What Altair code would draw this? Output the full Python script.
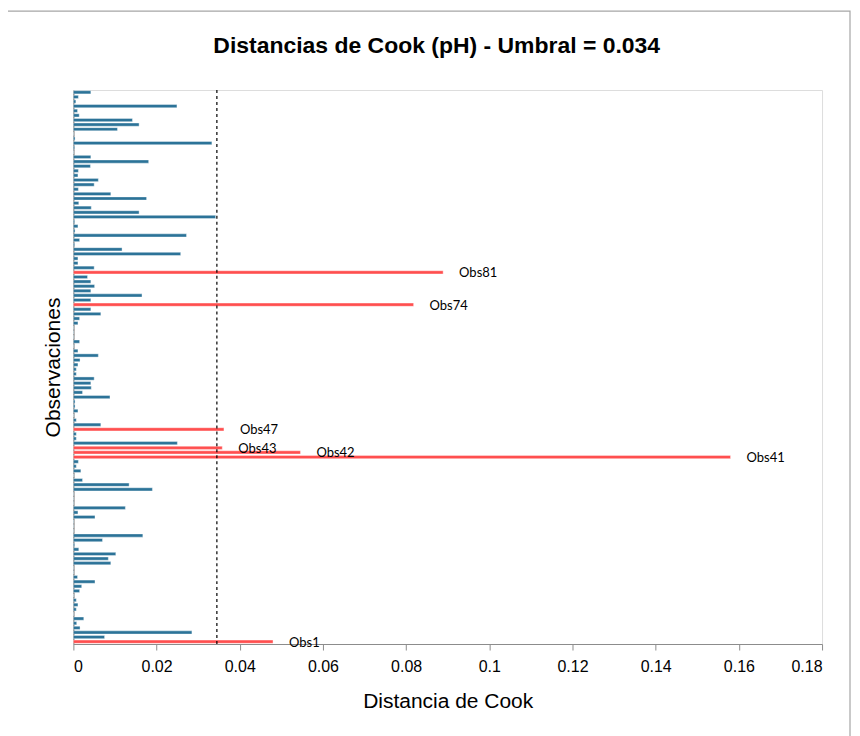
import altair as alt
import pandas as pd

# ---- data ----
obs_ids = list(range(1, 121))
cook = [
    0.0480, 0.0075, 0.0285, 0.0016, 0.0008, 0.0025, 0.0001, 0.0007, 0.0011, 0.0007,   # 1-10
    0.0001, 0.0015, 0.0020, 0.0052, 0.0010, 0.0001, 0.0001, 0.0090, 0.0084, 0.0102,   # 11-20
    0.0013, 0.0003, 0.0070, 0.0167, 0.0001, 0.0001, 0.0001, 0.0052, 0.0011, 0.0125,   # 21-30
    0.0001, 0.0001, 0.0001, 0.0190, 0.0134, 0.0022, 0.0001, 0.0018, 0.0007, 0.0012,   # 31-40
    0.1580, 0.0546, 0.0358, 0.0250, 0.0007, 0.0007, 0.0362, 0.0066, 0.0007, 0.0001,   # 41-50
    0.0011, 0.0004, 0.0004, 0.0088, 0.0022, 0.0043, 0.0042, 0.0050, 0.0007, 0.0007,   # 51-60
    0.0011, 0.0016, 0.0060, 0.0011, 0.0001, 0.0015, 0.0001, 0.0001, 0.0001, 0.0011,   # 61-70
    0.0015, 0.0066, 0.0042, 0.0818, 0.0042, 0.0165, 0.0042, 0.0051, 0.0042, 0.0034,   # 71-80
    0.0889, 0.0050, 0.0011, 0.0011, 0.0258, 0.0117, 0.0003, 0.0015, 0.0272, 0.0004,   # 81-90
    0.0011, 0.0003, 0.0342, 0.0158, 0.0043, 0.0013, 0.0176, 0.0090, 0.0012, 0.0050,   # 91-100
    0.0060, 0.0011, 0.0012, 0.0041, 0.0181, 0.0042, 0.0001, 0.0003, 0.0333, 0.0004,   # 101-110
    0.0001, 0.0106, 0.0158, 0.0142, 0.0014, 0.0010, 0.0249, 0.0006, 0.0012, 0.0042,   # 111-120
]
umbral = [0.0345]
titulo = ["Distancias de Cook (pH) - Umbral = 0.034"]
x_ticks = [0, 0.02, 0.04, 0.06, 0.08, 0.1, 0.12, 0.14, 0.16, 0.18]

names = [f"Obs{i}" for i in obs_ids]
df = pd.DataFrame({"obs": names, "cook": cook})
df["influyente"] = df["cook"] > umbral[0]
order = list(reversed(names))
df_umbral = pd.DataFrame({"u": umbral})
df_titulo = pd.DataFrame({"t": titulo})

BLUE = "#2C7398"
RED = "#FF4F4F"
FONT = "Liberation Sans"

xscale = alt.Scale(domain=[0, 0.18], nice=False, zero=True)
yscale = alt.Scale(domain=order, paddingInner=0.3, paddingOuter=0.15)

base = alt.Chart(df)

bars = base.mark_bar(stroke="white", strokeWidth=0.4).encode(
    x=alt.X("cook:Q", scale=xscale,
            axis=alt.Axis(title="Distancia de Cook", values=x_ticks, grid=False,
                          format="~g", labelFont=FONT, labelFontSize=16,
                          labelColor="black", tickColor="#8c8c8c", tickSize=6,
                          domainColor="#8c8c8c", domainWidth=1.2,
                          labelPadding=9, titleFont=FONT, titleFontSize=21,
                          titleFontWeight="normal", titleColor="black",
                          titlePadding=16)),
    y=alt.Y("obs:N", scale=yscale,
            axis=alt.Axis(title="Observaciones", labels=False, ticks=False,
                          grid=False, domainColor="#8c8c8c", domainWidth=1.5,
                          titleFont=FONT, titleFontSize=21,
                          titleFontWeight="normal", titleColor="black",
                          titlePadding=10)),
    color=alt.condition("datum.influyente", alt.value(RED), alt.value(BLUE)),
)

labels = base.transform_filter("datum.influyente").mark_text(
    align="left", baseline="middle", dx=16, dy=1, font="Lato", fontSize=13,
    color="black"
).encode(
    x=alt.X("cook:Q", scale=xscale),
    y=alt.Y("obs:N", scale=yscale),
    text="obs:N",
)

rule = alt.Chart(df_umbral).mark_rule(
    color="black", strokeDash=[3, 3], strokeWidth=1.2
).encode(x=alt.X("u:Q", scale=xscale))

border = alt.Chart(df_umbral).mark_rect(
    fill=None, stroke="#a6a6a6", strokeWidth=1.2
).encode(
    x=alt.value(-68), x2=alt.value(778), y=alt.value(-79), y2=alt.value(650)
)

title = alt.Chart(df_titulo).mark_text(
    font=FONT, fontSize=23, fontWeight="bold", color="black",
    align="center", baseline="alphabetic"
).encode(x=alt.value(364), y=alt.value(-37), text="t:N")

chart = alt.layer(border, bars, rule, labels, title).properties(
    width=750,
    height=555,
    autosize="none",
    padding={"left": 65.5, "top": 81.5, "right": 30, "bottom": 91.5},
).configure_view(stroke="#d9d9d9", strokeWidth=1.2).configure(background="white")

chart.save("out.html", embed_options={"renderer": "svg", "actions": False})
